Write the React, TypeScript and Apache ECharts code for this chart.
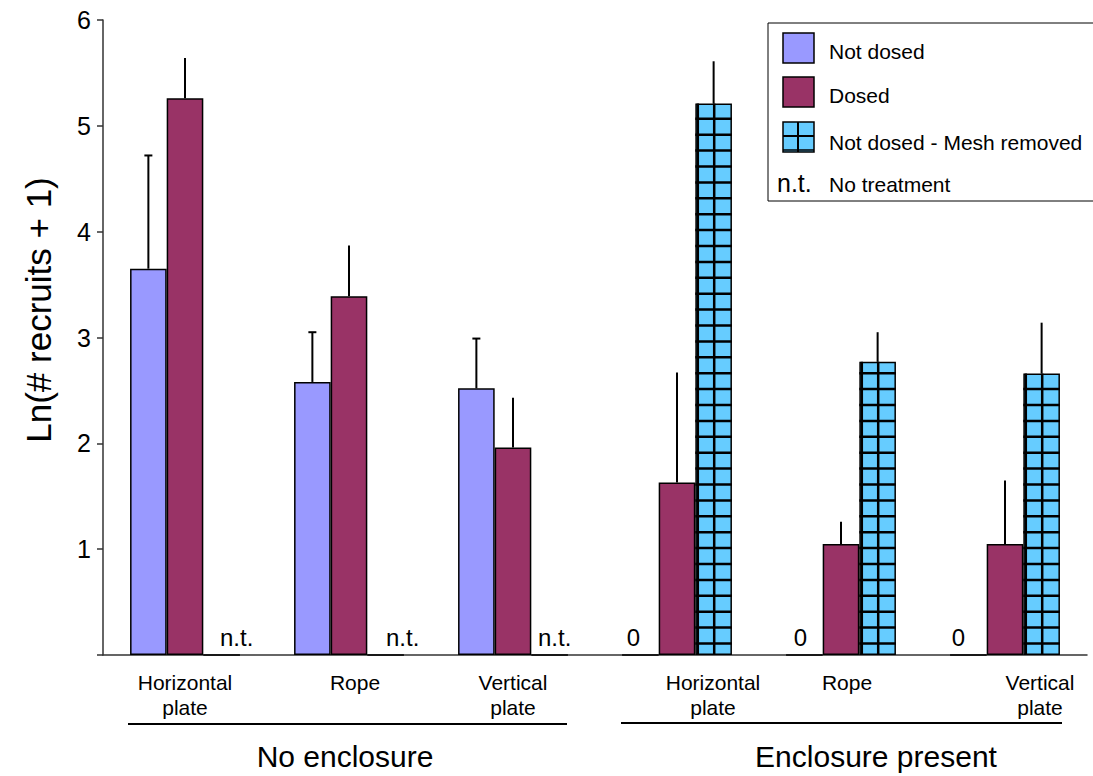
import React, { useEffect, useRef } from 'react';
import * as echarts from 'echarts';

// ---------- data ----------
const categories = ['Horizontal\nplate', 'Rope', 'Vertical\nplate', 'Horizontal\nplate', 'Rope', 'Vertical\nplate'];
const groupNames = ['No enclosure', 'Enclosure present'];
const seriesNames = ['Not dosed', 'Dosed', 'Not dosed - Mesh removed'];
const notDosed = [3.65, 2.58, 2.52, 0, 0, 0];
const notDosedErr = [1.07, 0.47, 0.47, 0, 0, 0];
const dosed = [5.26, 3.39, 1.96, 1.63, 1.05, 1.05];
const dosedErr = [0.38, 0.48, 0.47, 1.04, 0.21, 0.6];
const meshRemoved = [0, 0, 0, 5.21, 2.77, 2.66];
const meshRemovedErr = [0, 0, 0, 0.4, 0.28, 0.48];
const notDosedNotes = ['', '', '', '0', '0', '0'];
const meshRemovedNotes = ['n.t.', 'n.t.', 'n.t.', '', '', ''];
const yAxisTitle = 'Ln(# recruits + 1)';
const ntLegendText = 'No treatment';

// ---------- layout constants ----------
const labelShift = [0, 6, 0, 36, 6, 35];
const notDosedNoteShift = [0, 0, 0, -7, -4, -10];
const meshNoteShift = [15, 17, 5, 0, 0, 0];
const FONT = "'Liberation Sans', Arial, sans-serif";
const C_ND = '#9999FF';
const C_D = '#993366';
const C_M = '#66CCFF';
const MESH_PX = 16.4;
const MESH_OX = 9;
const MESH_PY = 15.9;
const MESH_OY = 7.5;

const BAR_FRAC = 0.67;

function noteLabel(text: string, shift: number) {
  return {
    show: true,
    formatter: text,
    position: 'top',
    distance: 5,
    offset: [shift, 0],
    fontSize: 24,
    color: '#000',
    fontFamily: FONT,
  };
}

function errSeries(vals: number[], errs: number[], slot: number, cap: boolean) {
  return {
    type: 'custom',
    silent: true,
    z: 5,
    data: vals.map((v, i) => [i, v, errs[i]]),
    encode: { x: 0, y: 1 },
    renderItem: (params: any, api: any) => {
      const e = api.value(2);
      if (!e) return null;
      const idx = api.value(0);
      const v = api.value(1);
      const base = api.coord([idx, v]);
      const top = api.coord([idx, v + e]);
      const bw = (api.size([1, 0])[0] * BAR_FRAC) / 3;
      const x = base[0] + (slot - 1) * bw;
      const children: any[] = [
        { type: 'line', shape: { x1: x, y1: base[1], x2: x, y2: top[1] }, style: { stroke: '#000', lineWidth: 2 } },
      ];
      if (cap) {
        children.push({
          type: 'line',
          shape: { x1: x - 4, y1: top[1], x2: x + 4, y2: top[1] },
          style: { stroke: '#000', lineWidth: 2 },
        });
      }
      return { type: 'group', children };
    },
  };
}

// grid texture drawn over the mesh-removed bars
function meshSeries(vals: number[], slot: number) {
  return {
    type: 'custom',
    silent: true,
    z: 3,
    data: vals.map((v, i) => [i, v]),
    encode: { x: 0, y: 1 },
    renderItem: (params: any, api: any) => {
      const v = api.value(1);
      if (!v) return null;
      const idx = api.value(0);
      const topPt = api.coord([idx, v]);
      const basePt = api.coord([idx, 0]);
      const bw = (api.size([1, 0])[0] * BAR_FRAC) / 3;
      const cx = topPt[0] + (slot - 1) * bw;
      const x0 = cx - bw / 2;
      const x1 = cx + bw / 2;
      const y0 = topPt[1];
      const y1 = basePt[1];
      const children: any[] = [];
      const st = { stroke: '#000', lineWidth: 2.5 };
      let gx = Math.ceil((x0 + 2 - MESH_OX) / MESH_PX) * MESH_PX + MESH_OX;
      for (; gx < x1 - 2; gx += MESH_PX) {
        children.push({ type: 'line', shape: { x1: gx, y1: y0, x2: gx, y2: y1 }, style: st });
      }
      let gy = Math.ceil((y0 + 3 - MESH_OY) / MESH_PY) * MESH_PY + MESH_OY;
      for (; gy < y1 - 1; gy += MESH_PY) {
        children.push({ type: 'line', shape: { x1: x0, y1: gy, x2: x1, y2: gy }, style: st });
      }
      return { type: 'group', children };
    },
  };
}

export default function App() {
  const ref = useRef<HTMLDivElement>(null);
  useEffect(() => {
    document.body.style.margin = '0';
    if (!ref.current) return;
    const chart = echarts.init(ref.current, null, { renderer: 'svg' });

    const rich: any = {};
    labelShift.forEach((s, i) => {
      rich['s' + i] = {
        fontSize: 21,
        lineHeight: 25,
        color: '#000',
        fontFamily: FONT,
        padding: [0, 0, 0, 2 * s],
      };
    });

    const barBase = {
      type: 'bar',
      barGap: '0%',
      barCategoryGap: '33%',
    };
    const border = { borderColor: '#000', borderWidth: 1.5 };

    const option: any = {
      animation: false,
      backgroundColor: '#fff',
      grid: { left: 103, right: 6, top: 20, bottom: 121, containLabel: false },
      xAxis: {
        type: 'category',
        data: categories,
        axisLine: { lineStyle: { color: '#333', width: 1.5 } },
        axisTick: { length: 6, lineStyle: { color: '#333', width: 1.5 } },
        axisLabel: {
          interval: 0,
          margin: 15,
          color: '#000',
          fontSize: 21,
          lineHeight: 25,
          fontFamily: FONT,
          formatter: (v: string, i: number) =>
            v
              .split('\n')
              .map((l) => `{s${i}|${l}}`)
              .join('\n'),
          rich,
        },
      },
      yAxis: {
        type: 'value',
        min: 0,
        max: 6,
        interval: 1,
        axisLine: { show: true, lineStyle: { color: '#333', width: 1.5 } },
        axisTick: { show: true, length: 6, lineStyle: { color: '#333', width: 1.5 } },
        splitLine: { show: false },
        axisLabel: {
          formatter: (v: number) => (v === 0 ? '' : String(v)),
          fontSize: 25,
          color: '#000',
          margin: 12,
          fontFamily: FONT,
        },
      },
      series: [
        {
          ...barBase,
          name: seriesNames[0],
          itemStyle: { color: C_ND, ...border },
          data: notDosed.map((v, i) =>
            notDosedNotes[i] ? { value: v, label: noteLabel(notDosedNotes[i], notDosedNoteShift[i]) } : v
          ),
        },
        {
          ...barBase,
          name: seriesNames[1],
          itemStyle: { color: C_D, ...border },
          data: dosed,
        },
        {
          ...barBase,
          name: seriesNames[2],
          itemStyle: { color: C_M, ...border },
          data: meshRemoved.map((v, i) =>
            meshRemovedNotes[i] ? { value: v, label: noteLabel(meshRemovedNotes[i], meshNoteShift[i]) } : v
          ),
        },
        meshSeries(meshRemoved, 2),
        errSeries(notDosed, notDosedErr, 0, true),
        errSeries(dosed, dosedErr, 1, false),
        errSeries(meshRemoved, meshRemovedErr, 2, false),
      ],
      graphic: [
        {
          type: 'text',
          x: 38,
          y: 310,
          rotation: Math.PI / 2,
          style: {
            text: yAxisTitle,
            fontSize: 35,
            fontFamily: FONT,
            fill: '#000',
            align: 'center',
            verticalAlign: 'middle',
          },
        },
        { type: 'line', shape: { x1: 128, y1: 724, x2: 567, y2: 724 }, style: { stroke: '#000', lineWidth: 2 } },
        { type: 'line', shape: { x1: 621, y1: 723, x2: 1062, y2: 723 }, style: { stroke: '#000', lineWidth: 2 } },
        {
          type: 'text',
          x: 345,
          y: 756,
          style: { text: groupNames[0], fontSize: 30, fontFamily: FONT, fill: '#000', align: 'center', verticalAlign: 'middle' },
        },
        {
          type: 'text',
          x: 876,
          y: 756,
          style: { text: groupNames[1], fontSize: 30, fontFamily: FONT, fill: '#000', align: 'center', verticalAlign: 'middle' },
        },
        // legend
        {
          type: 'rect',
          shape: { x: 768, y: 23, width: 340, height: 178 },
          style: { fill: '#fff', stroke: '#000', lineWidth: 1 },
          z: 10,
        },
        {
          type: 'rect',
          shape: { x: 783, y: 33, width: 31, height: 30 },
          style: { fill: C_ND, stroke: '#000', lineWidth: 1.5 },
          z: 11,
        },
        {
          type: 'rect',
          shape: { x: 783, y: 77, width: 31, height: 30 },
          style: { fill: C_D, stroke: '#000', lineWidth: 1.5 },
          z: 11,
        },
        {
          type: 'rect',
          shape: { x: 783, y: 122, width: 31, height: 30 },
          style: { fill: C_M, stroke: '#000', lineWidth: 1.5 },
          z: 11,
        },
        { type: 'line', shape: { x1: 798, y1: 122, x2: 798, y2: 152 }, style: { stroke: '#000', lineWidth: 2 }, z: 12 },
        { type: 'line', shape: { x1: 783, y1: 136, x2: 814, y2: 136 }, style: { stroke: '#000', lineWidth: 2 }, z: 12 },
        { type: 'line', shape: { x1: 783, y1: 150, x2: 814, y2: 150 }, style: { stroke: '#000', lineWidth: 1.5 }, z: 12 },
        ...seriesNames.map((n, i) => ({
          type: 'text',
          x: 829,
          y: [51.5, 95.5, 142.5][i],
          z: 12,
          style: { text: n, fontSize: 21, fontFamily: FONT, fill: '#000', verticalAlign: 'middle' },
        })),
        {
          type: 'text',
          x: 777,
          y: 183,
          z: 12,
          style: { text: meshRemovedNotes[0], fontSize: 25, fontFamily: FONT, fill: '#000', verticalAlign: 'middle' },
        },
        {
          type: 'text',
          x: 829,
          y: 184.5,
          z: 12,
          style: { text: ntLegendText, fontSize: 21, fontFamily: FONT, fill: '#000', verticalAlign: 'middle' },
        },
      ],
    };
    chart.setOption(option);
    return () => chart.dispose();
  }, []);
  return <div ref={ref} style={{ width: 1093, height: 776 }} />;
}
